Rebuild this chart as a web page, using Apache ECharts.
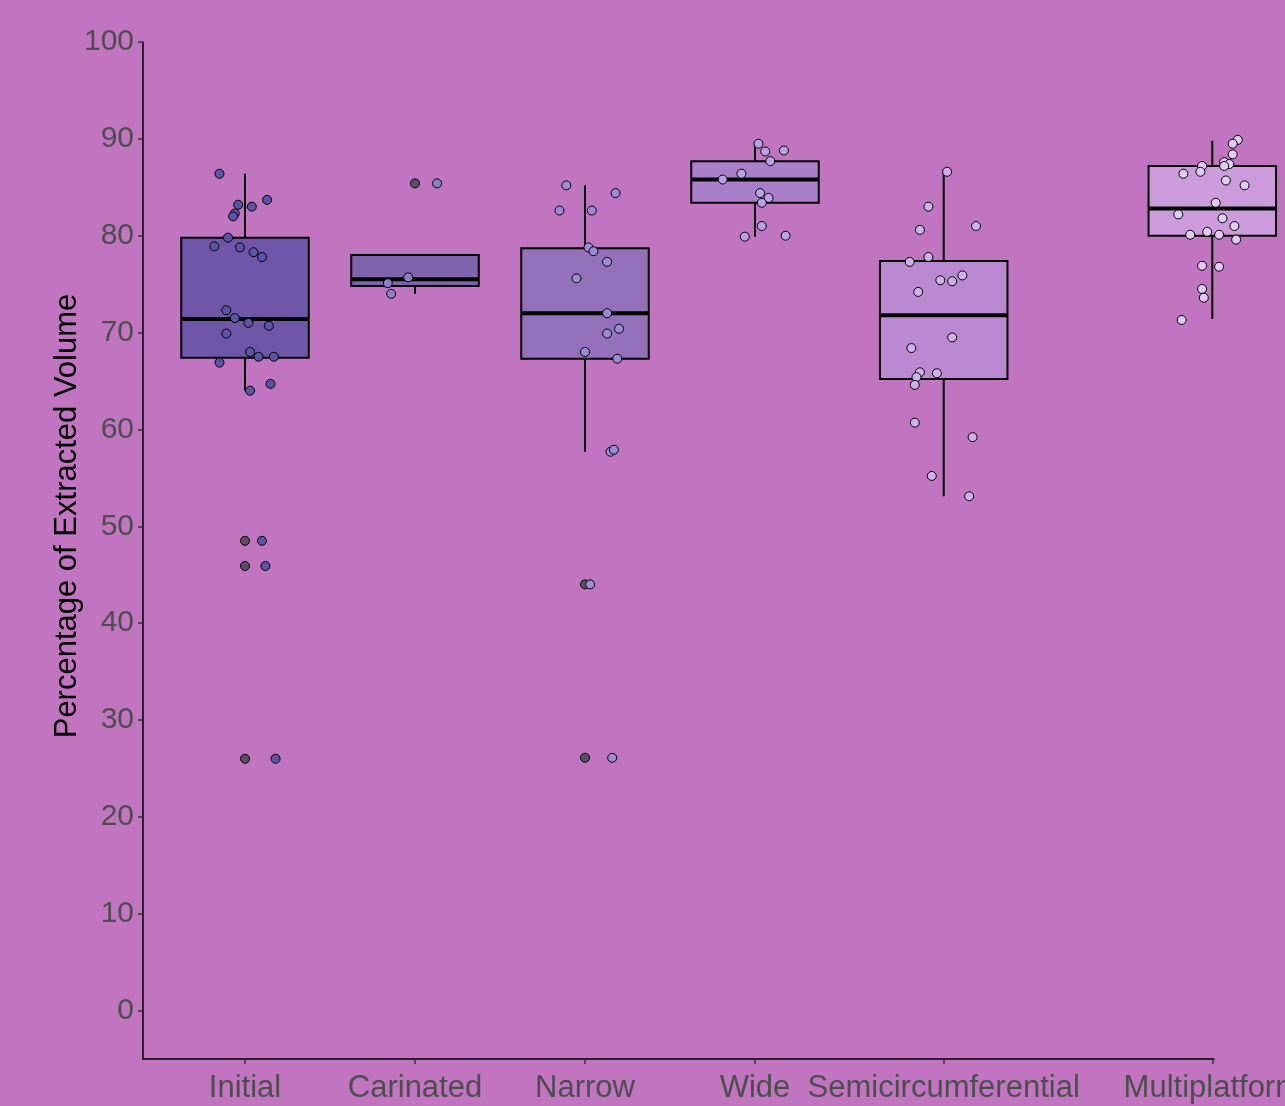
<!DOCTYPE html>
<html>
<head>
<meta charset="utf-8">
<title>Percentage of Extracted Volume</title>
<script src="https://cdn.jsdelivr.net/npm/echarts@6/dist/echarts.min.js"></script>
<style>
  html, body { margin: 0; padding: 0; background: #c175c1; }
  #chart { width: 1285px; height: 1106px; }
</style>
</head>
<body>
<div id="chart"></div>
<script>
// ---- data -------------------------------------------------------------
const categories = ['Initial', 'Carinated', 'Narrow', 'Wide', 'Semicircumferential', 'Multiplatform'];
const categoryPos = [1, 2, 3, 4, 5.11, 6.69];
const yTicks = [0, 10, 20, 30, 40, 50, 60, 70, 80, 90, 100];

// box statistics: lower whisker, Q1, median, Q3, upper whisker
const boxMin = [64.0, 74.0, 57.7, 79.9, 53.1, 71.4];
const boxQ1  = [67.4, 74.8, 67.3, 83.4, 65.2, 80.0];
const boxMed = [71.4, 75.5, 72.0, 85.8, 71.8, 82.8];
const boxQ3  = [79.8, 78.0, 78.7, 87.7, 77.4, 87.2];
const boxMax = [86.4, 78.0, 85.2, 89.5, 86.6, 89.8];

// outlying observations drawn by the box plot (category index, value)
const outliers = [[0, 48.5], [0, 45.9], [0, 26.0], [1, 85.4], [2, 44.0], [2, 26.1]];

// individual observations: [horizontal jitter in category units, value]
const pointsInitial = [[-0.15, 86.4], [0.13, 83.7], [-0.04, 83.2], [0.04, 83.0], [-0.06, 82.3], [-0.07, 82.0],
  [-0.10, 79.8], [-0.18, 78.9], [-0.03, 78.8], [0.05, 78.3], [0.10, 77.8], [-0.11, 72.3], [-0.06, 71.5],
  [0.02, 71.0], [0.14, 70.7], [-0.11, 69.9], [0.03, 68.0], [0.08, 67.5], [0.17, 67.5], [-0.15, 66.9],
  [0.15, 64.7], [0.03, 64.0], [0.10, 48.5], [0.12, 45.9], [0.18, 26.0]];
const pointsCarinated = [[0.13, 85.4], [-0.04, 75.7], [-0.16, 75.1], [-0.14, 74.0]];
const pointsNarrow = [[-0.11, 85.2], [0.18, 84.4], [-0.15, 82.6], [0.04, 82.6], [0.02, 78.8], [0.05, 78.4],
  [0.13, 77.3], [-0.05, 75.6], [0.13, 72.0], [0.20, 70.4], [0.13, 69.9], [0.00, 68.0], [0.19, 67.3],
  [0.15, 57.7], [0.17, 57.9], [0.03, 44.0], [0.16, 26.1]];
const pointsWide = [[0.02, 89.5], [0.06, 88.7], [0.17, 88.8], [0.09, 87.7], [-0.08, 86.4], [-0.19, 85.8],
  [0.03, 84.4], [0.08, 83.9], [0.04, 83.4], [0.04, 81.0], [-0.06, 79.9], [0.18, 80.0]];
const pointsSemicircumferential = [[0.02, 86.6], [-0.09, 83.0], [0.19, 81.0], [-0.14, 80.6], [-0.09, 77.8],
  [-0.20, 77.3], [0.11, 75.9], [-0.02, 75.4], [0.05, 75.3], [-0.15, 74.2], [0.05, 69.5], [-0.19, 68.4],
  [-0.14, 65.9], [-0.04, 65.8], [-0.16, 65.4], [-0.17, 64.6], [-0.17, 60.7], [0.17, 59.2], [-0.07, 55.2],
  [0.15, 53.1]];
const pointsMultiplatform = [[0.15, 89.9], [0.12, 89.5], [0.12, 88.4], [-0.06, 87.2], [0.07, 87.6], [0.10, 87.4],
  [0.07, 87.2], [-0.07, 86.6], [-0.17, 86.4], [0.08, 85.7], [0.19, 85.2], [0.02, 83.4], [-0.20, 82.2],
  [0.06, 81.8], [0.13, 81.0], [-0.13, 80.1], [-0.03, 80.4], [0.04, 80.1], [0.14, 79.6], [-0.06, 76.9],
  [0.04, 76.8], [-0.06, 74.5], [-0.05, 73.6], [-0.18, 71.3]];
const pointGroups = [pointsInitial, pointsCarinated, pointsNarrow, pointsWide, pointsSemicircumferential, pointsMultiplatform];

// ---- styling -----------------------------------------------------------
const FONT = "'Liberation Sans', Arial, sans-serif";
const BG = '#c175c1';
const boxFill = ['#7056a8', '#7e64ac', '#9370b9', '#a97fc9', '#bb88d2', '#cb9bdb'];
const pointFill = ['#5a55a6', '#8a80c6', '#9c8bd2', '#b9a2e4', '#cdb2ea', '#e0cbf2'];
const OUTLIER_FILL = '#5b5060';
const BOX_WIDTH = 0.75;
const POINT_SIZE = 9;

function renderBox(params, api) {
  const i = api.value(0);
  const x = categoryPos[i];
  const pMin = api.coord([x, api.value(1)]);
  const pQ1 = api.coord([x, api.value(2)]);
  const pMed = api.coord([x, api.value(3)]);
  const pQ3 = api.coord([x, api.value(4)]);
  const pMax = api.coord([x, api.value(5)]);
  const left = api.coord([x - BOX_WIDTH / 2, 0])[0];
  const right = api.coord([x + BOX_WIDTH / 2, 0])[0];
  const line = { stroke: '#000', lineWidth: 2 };
  return {
    type: 'group',
    children: [
      { type: 'line', shape: { x1: pMin[0], y1: pMin[1], x2: pQ1[0], y2: pQ1[1] }, style: line },
      { type: 'line', shape: { x1: pQ3[0], y1: pQ3[1], x2: pMax[0], y2: pMax[1] }, style: line },
      { type: 'rect', shape: { x: left, y: pQ3[1], width: right - left, height: pQ1[1] - pQ3[1] },
        style: { fill: boxFill[i], stroke: '#000', lineWidth: 2 } },
      { type: 'line', shape: { x1: left, y1: pMed[1], x2: right, y2: pMed[1] },
        style: { stroke: '#000', lineWidth: 4 } }
    ]
  };
}

function nearestCategory(v) {
  let best = 0;
  categoryPos.forEach((p, i) => { if (Math.abs(p - v) < Math.abs(categoryPos[best] - v)) best = i; });
  return best;
}

const series = [
  {
    type: 'custom',
    renderItem: renderBox,
    clip: false,
    data: categories.map((c, i) => [i, boxMin[i], boxQ1[i], boxMed[i], boxQ3[i], boxMax[i]]),
    encode: { x: 0, y: [1, 2, 3, 4, 5] },
    z: 2
  },
  {
    type: 'scatter',
    clip: false,
    data: outliers.map(([i, v]) => [categoryPos[i], v]),
    symbolSize: POINT_SIZE,
    itemStyle: { color: OUTLIER_FILL, borderColor: '#000', borderWidth: 1, opacity: 1 },
    z: 3
  }
];
pointGroups.forEach((pts, i) => {
  series.push({
    type: 'scatter',
    name: categories[i],
    clip: false,
    data: pts.map(([dx, v]) => [categoryPos[i] + dx, v]),
    symbolSize: POINT_SIZE,
    itemStyle: { color: pointFill[i], borderColor: '#000', borderWidth: 1, opacity: 1 },
    z: 4
  });
});

const chart = echarts.init(document.getElementById('chart'), null, { renderer: 'canvas' });
chart.setOption({
  animation: false,
  backgroundColor: BG,
  grid: { left: 143, right: 71, top: 42, bottom: 47, containLabel: false, outerBoundsMode: 'none' },
  xAxis: {
    type: 'value',
    min: 0.4,
    max: 6.7,
    splitLine: { show: false },
    axisLine: { show: true, onZero: false, lineStyle: { color: '#000', width: 1.5 } },
    axisTick: { show: true, length: 5, customValues: categoryPos, lineStyle: { color: '#333', width: 1.5 } },
    axisLabel: {
      show: true,
      customValues: categoryPos,
      formatter: v => categories[nearestCategory(v)],
      color: '#4d4d4d',
      fontSize: 31,
      fontFamily: FONT,
      margin: 14
    }
  },
  yAxis: {
    type: 'value',
    min: -5,
    max: 100,
    splitLine: { show: false },
    axisLine: { show: true, onZero: false, lineStyle: { color: '#000', width: 1.5 } },
    axisTick: { show: true, length: 5, customValues: yTicks, lineStyle: { color: '#333', width: 1.5 } },
    axisLabel: {
      show: true,
      customValues: yTicks,
      color: '#4d4d4d',
      fontSize: 30,
      fontFamily: FONT,
      margin: 9
    }
  },
  graphic: [{
    type: 'text',
    x: 67,
    y: 516,
    rotation: Math.PI / 2,
    style: {
      text: 'Percentage of Extracted Volume',
      fill: '#000',
      font: '31px ' + FONT,
      align: 'center',
      verticalAlign: 'middle'
    }
  }],
  series: series
});
</script>
</body>
</html>
